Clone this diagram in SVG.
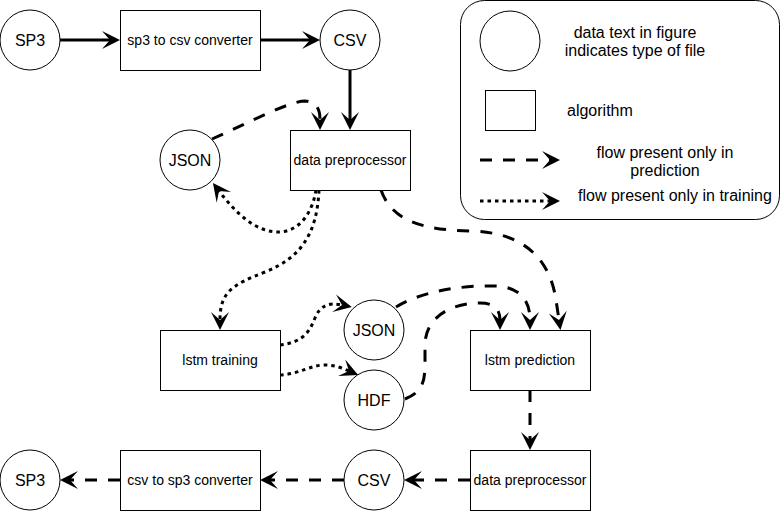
<svg xmlns="http://www.w3.org/2000/svg" width="781" height="511" viewBox="0 0 781 511">
<style>
.n{fill:#fff;stroke:#000;stroke-width:1}
.t16{font-family:"Liberation Sans",Arial,sans-serif;font-size:16px;fill:#000;text-anchor:middle}
.t14{font-family:"Liberation Sans",Arial,sans-serif;font-size:14px;fill:#000;text-anchor:middle}
.e{fill:none;stroke:#000;stroke-width:3}
.d{stroke-dasharray:12 11}
.o{stroke-dasharray:3.5 4}
</style>
<defs>
<marker id="a" markerUnits="userSpaceOnUse" markerWidth="20" markerHeight="20" viewBox="0 -10 20 20" refX="8" refY="0" orient="auto">
<path d="M0,-9 L18,0 L0,9 L8,0 Z" fill="#000"/>
</marker>
</defs>
<rect width="781" height="511" fill="#fff"/>
<g id="legend">
<rect class="n" x="460.5" y="0.5" width="319" height="219" rx="24"/>
<circle class="n" cx="510" cy="41" r="30"/>
<text class="t16" x="635" y="38">data text in figure</text>
<text class="t16" x="635" y="56">indicates type of file</text>
<rect class="n" x="485.5" y="90.5" width="50" height="40"/>
<text class="t16" x="567" y="116" style="text-anchor:start">algorithm</text>
<path class="e d" d="M480,160 L550,160" marker-end="url(#a)"/>
<path class="e o" d="M480,201 L550,201" marker-end="url(#a)"/>
<text class="t16" x="665" y="158">flow present only in</text>
<text class="t16" x="665" y="176">prediction</text>
<text class="t16" x="578" y="201" style="text-anchor:start">flow present only in training</text>
</g>
<g id="connectors">
<path class="e" d="M60,40 L110,40" marker-end="url(#a)"/>
<path class="e" d="M260,40 L310,40" marker-end="url(#a)"/>
<path class="e" d="M350,70 L350,120" marker-end="url(#a)"/>
<path class="e d" d="M212,139 C250,122 290,101 305,101 C316,102 320,108 320,120" marker-end="url(#a)"/>
<path class="e o" d="M316,190 C312,215 298,232 278,232 C255,232 235,212 219,191" marker-end="url(#a)"/>
<path class="e o" d="M319,190 C317,235 300,258 265,272 C232,285 220,292 220,320" marker-end="url(#a)"/>
<path class="e d" d="M381,190 C392,222 425,230 470,231 C525,232 550,260 556,300 L559,320" marker-end="url(#a)"/>
<path class="e o" d="M280,345 C305,342 310,330 315,318 C320,306 328,302 342,305" marker-end="url(#a)"/>
<path class="e o" d="M280,375 C300,374 310,365 325,365 C335,365 342,368 349,371" marker-end="url(#a)"/>
<path class="e d" d="M396,307 C420,292 460,285 495,286 C520,287 530,300 530,320" marker-end="url(#a)"/>
<path class="e d" d="M405,399 C420,393 425,385 425,365 L425,345 C425,318 450,303 480,303 C495,303 500,310 500,320" marker-end="url(#a)"/>
<path class="e d" d="M530,390 L530,440" marker-end="url(#a)"/>
<path class="e d" d="M470,480 L414,480" marker-end="url(#a)"/>
<path class="e d" d="M344,480 L270,480" marker-end="url(#a)"/>
<path class="e d" d="M120,480 L70,480" marker-end="url(#a)"/>
</g>
<g id="sp3_top"><circle class="n" cx="30" cy="40" r="30"/><text class="t16" x="30" y="46">SP3</text></g>
<g id="sp3_to_csv"><rect class="n" x="120.5" y="10.5" width="140" height="60"/><text class="t14" x="190" y="45">sp3 to csv converter</text></g>
<g id="csv_top"><circle class="n" cx="350" cy="40" r="30"/><text class="t16" x="350" y="46">CSV</text></g>
<g id="json_top"><circle class="n" cx="190" cy="160" r="30"/><text class="t16" x="190" y="166">JSON</text></g>
<g id="preproc_top"><rect class="n" x="290.5" y="130.5" width="120" height="60"/><text class="t14" x="350" y="165">data preprocessor</text></g>
<g id="lstm_training"><rect class="n" x="160.5" y="330.5" width="120" height="60"/><text class="t14" x="220" y="365">lstm training</text></g>
<g id="json_mid"><circle class="n" cx="374" cy="330" r="30"/><text class="t16" x="374" y="336">JSON</text></g>
<g id="hdf"><circle class="n" cx="374" cy="400" r="30"/><text class="t16" x="374" y="406">HDF</text></g>
<g id="lstm_prediction"><rect class="n" x="470.5" y="330.5" width="120" height="60"/><text class="t14" x="530" y="365">lstm prediction</text></g>
<g id="preproc_bottom"><rect class="n" x="470.5" y="450.5" width="120" height="60"/><text class="t14" x="530" y="485">data preprocessor</text></g>
<g id="csv_bottom"><circle class="n" cx="374" cy="480" r="30"/><text class="t16" x="374" y="486">CSV</text></g>
<g id="csv_to_sp3"><rect class="n" x="120.5" y="450.5" width="140" height="60"/><text class="t14" x="190" y="485">csv to sp3 converter</text></g>
<g id="sp3_bottom"><circle class="n" cx="30" cy="480" r="30"/><text class="t16" x="30" y="486">SP3</text></g>
</svg>
